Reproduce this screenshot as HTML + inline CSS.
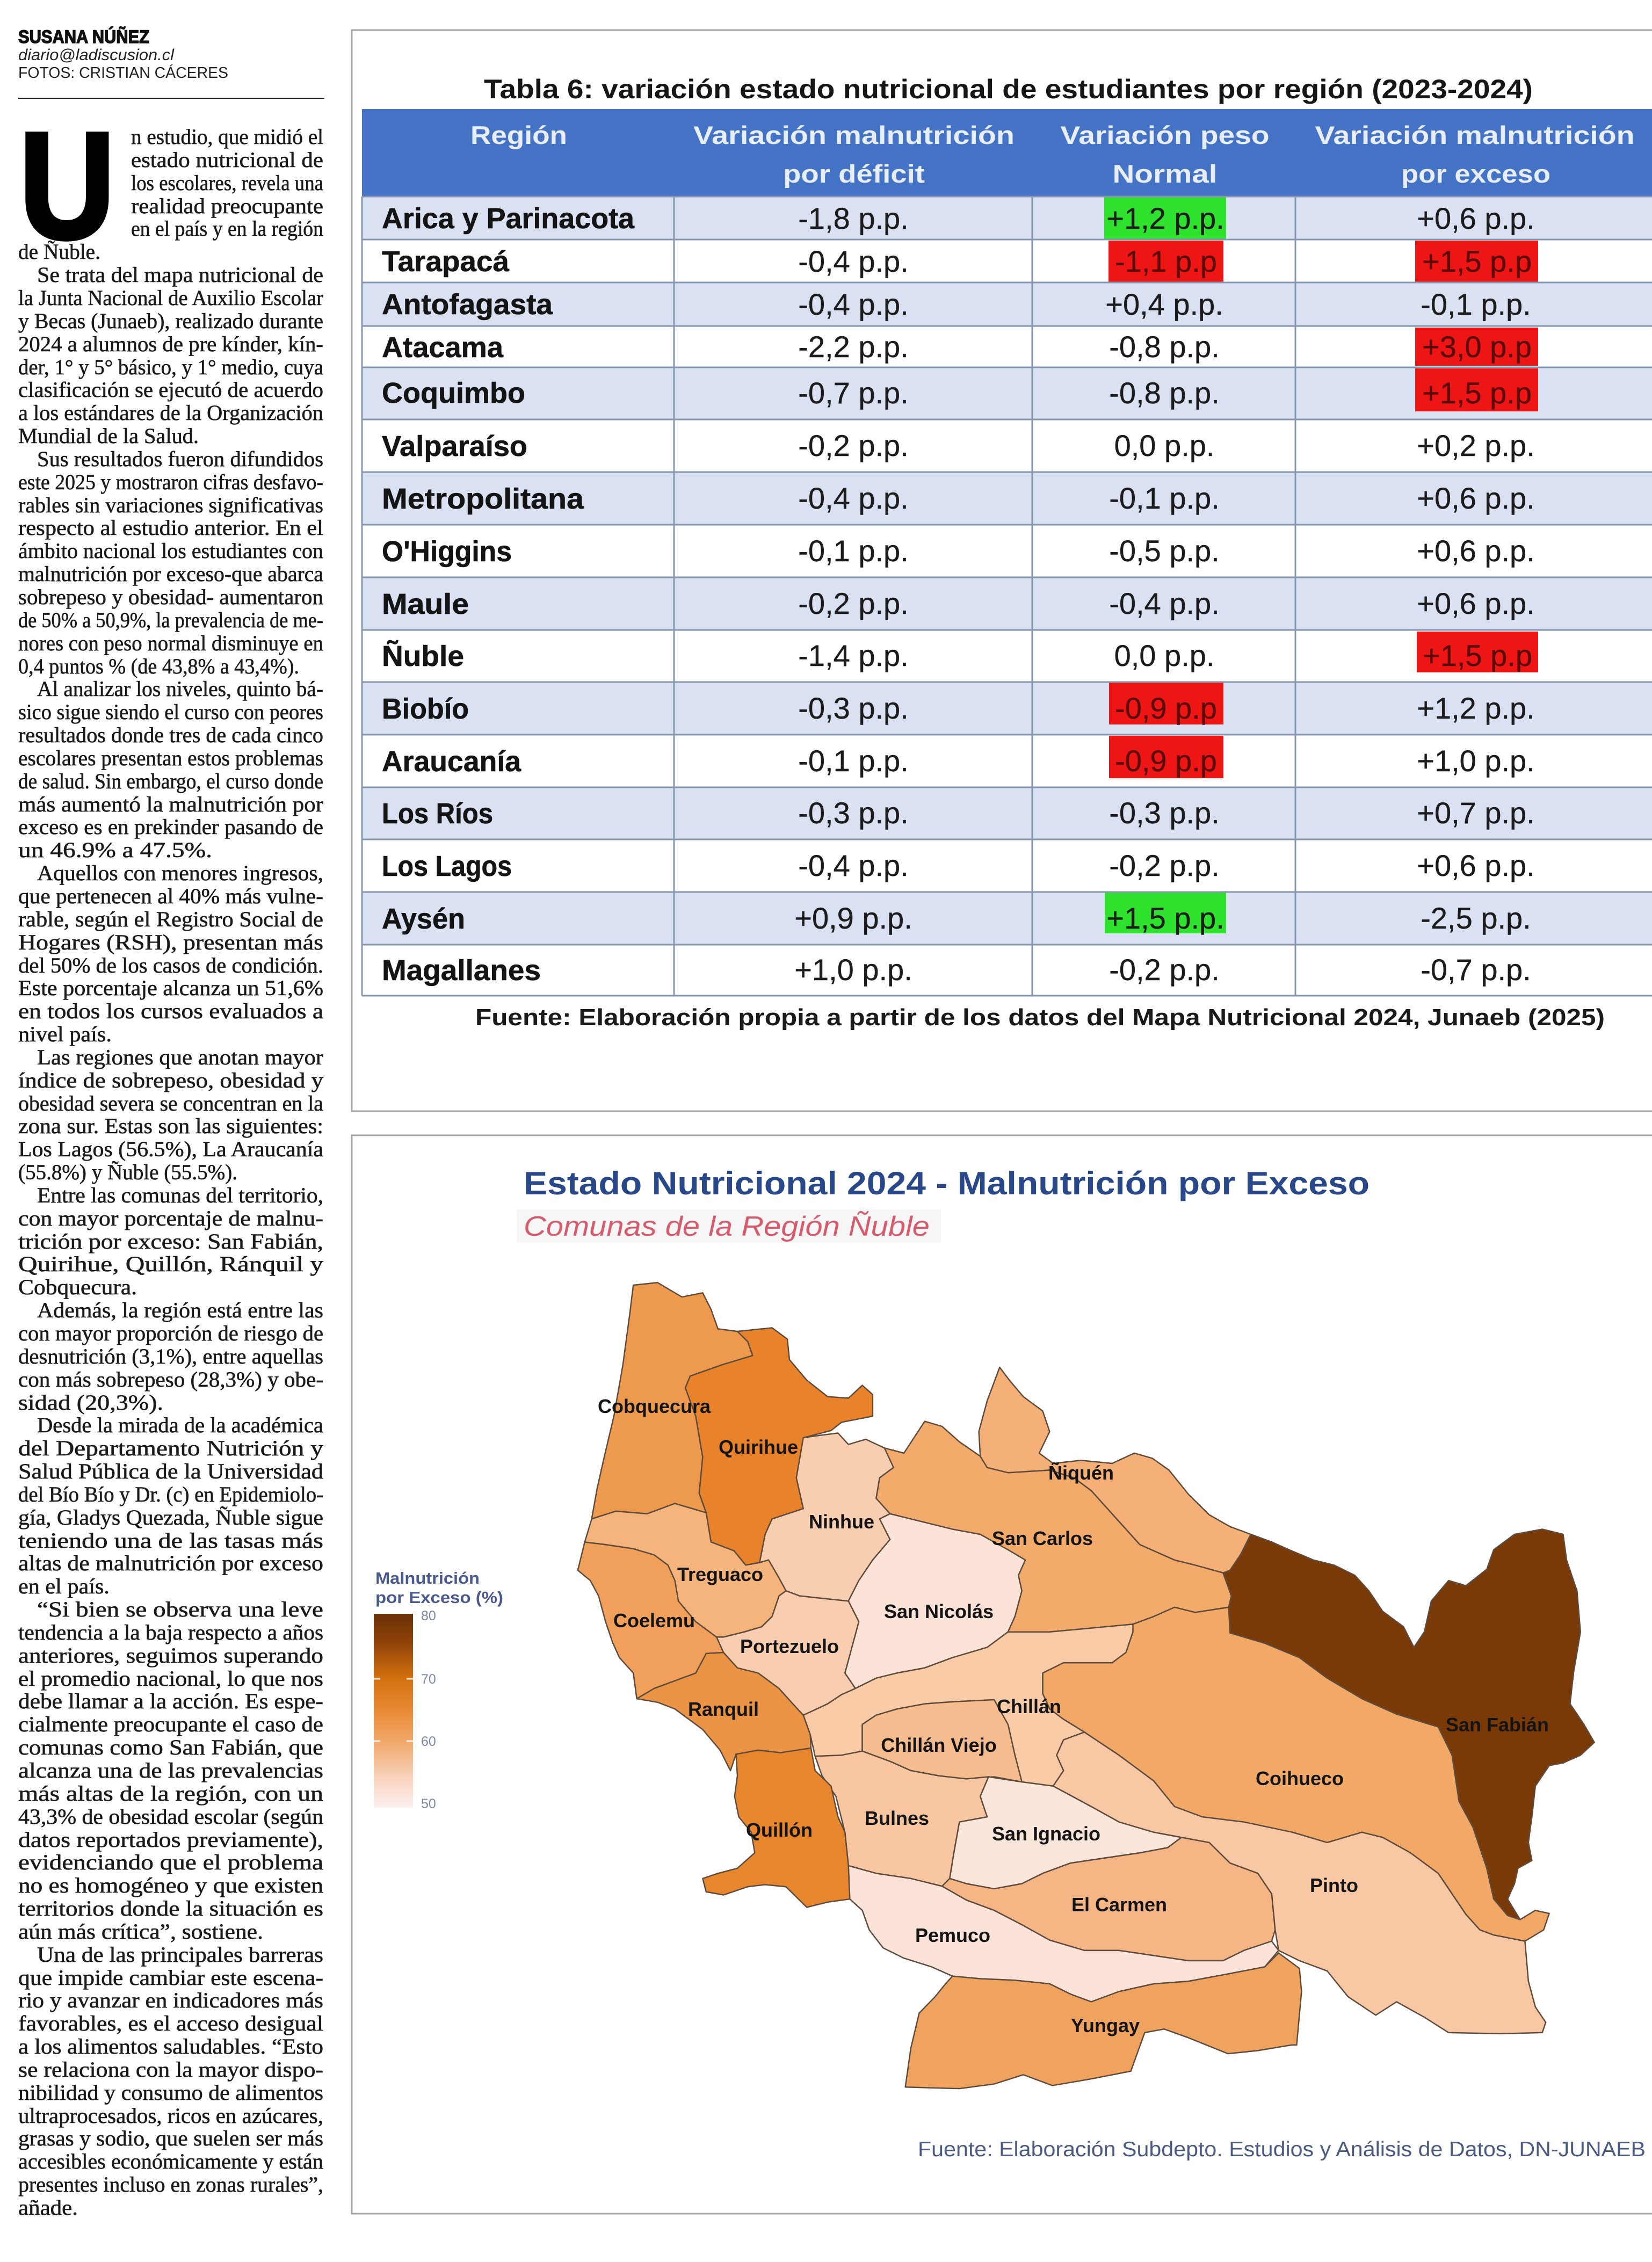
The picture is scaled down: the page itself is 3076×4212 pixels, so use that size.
<!DOCTYPE html>
<html><head><meta charset="utf-8"><title>Estado nutricional</title>
<style>
html,body{margin:0;padding:0;background:#fff;}
svg{display:block;}
.bt{font-family:"Liberation Serif",serif;font-size:40px;fill:#1a1a1a;stroke:#1a1a1a;stroke-width:0.6px;}
.rg{font-family:"Liberation Sans",sans-serif;font-weight:bold;font-size:54px;fill:#141414;stroke:#141414;stroke-width:0.6px;}
.vl{font-family:"Liberation Sans",sans-serif;font-size:56px;fill:#1c1c1c;text-anchor:middle;stroke:#1c1c1c;stroke-width:0.4px;}
.hd{font-family:"Liberation Sans",sans-serif;font-weight:bold;font-size:47px;fill:#e8eef8;text-anchor:middle;}
.ml{font-family:"Liberation Sans",sans-serif;font-weight:bold;font-size:36px;fill:#141414;text-anchor:middle;}
</style></head>
<body>
<svg width="3076" height="4212" viewBox="0 0 3076 4212" xmlns="http://www.w3.org/2000/svg">
<rect width="3076" height="4212" fill="#fff"/>

<!-- byline -->
<text x="34" y="80" font-family="Liberation Sans, sans-serif" font-weight="bold" font-size="34" fill="#111" stroke="#111" stroke-width="1.5" textLength="244" lengthAdjust="spacingAndGlyphs">SUSANA NÚÑEZ</text>
<text x="34" y="112" font-family="Liberation Sans, sans-serif" font-style="italic" font-size="30" fill="#222" textLength="290" lengthAdjust="spacingAndGlyphs">diario@ladiscusion.cl</text>
<text x="34" y="145" font-family="Liberation Sans, sans-serif" font-size="29" fill="#222" textLength="391" lengthAdjust="spacingAndGlyphs">FOTOS: CRISTIAN CÁCERES</text>
<line x1="34" y1="183" x2="604" y2="183" stroke="#222" stroke-width="2"/>

<!-- drop cap -->
<text x="36" y="443" font-family="Liberation Sans, sans-serif" font-weight="bold" font-size="282" fill="#000" stroke="#000" stroke-width="8" textLength="178" lengthAdjust="spacingAndGlyphs">U</text>

<!-- body text -->
<g class="bt">
<text x="244" y="268" textLength="358" lengthAdjust="spacingAndGlyphs">n estudio, que midió el</text>
<text x="244" y="311" textLength="358" lengthAdjust="spacingAndGlyphs">estado nutricional de</text>
<text x="244" y="354" textLength="358" lengthAdjust="spacingAndGlyphs">los escolares, revela una</text>
<text x="244" y="397" textLength="358" lengthAdjust="spacingAndGlyphs">realidad preocupante</text>
<text x="244" y="439" textLength="358" lengthAdjust="spacingAndGlyphs">en el país y en la región</text>
<text x="34" y="482" textLength="153" lengthAdjust="spacingAndGlyphs">de Ñuble.</text>
<text x="69" y="525" textLength="533" lengthAdjust="spacingAndGlyphs">Se trata del mapa nutricional de</text>
<text x="34" y="568" textLength="568" lengthAdjust="spacingAndGlyphs">la Junta Nacional de Auxilio Escolar</text>
<text x="34" y="611" textLength="568" lengthAdjust="spacingAndGlyphs">y Becas (Junaeb), realizado durante</text>
<text x="34" y="654" textLength="568" lengthAdjust="spacingAndGlyphs">2024 a alumnos de pre kínder, kín-</text>
<text x="34" y="697" textLength="568" lengthAdjust="spacingAndGlyphs">der, 1° y  5° básico, y 1° medio, cuya</text>
<text x="34" y="739" textLength="568" lengthAdjust="spacingAndGlyphs">clasificación se ejecutó de acuerdo</text>
<text x="34" y="782" textLength="568" lengthAdjust="spacingAndGlyphs">a los estándares de la Organización</text>
<text x="34" y="825" textLength="336" lengthAdjust="spacingAndGlyphs">Mundial de la Salud.</text>
<text x="69" y="868" textLength="533" lengthAdjust="spacingAndGlyphs">Sus resultados fueron difundidos</text>
<text x="34" y="911" textLength="568" lengthAdjust="spacingAndGlyphs">este 2025 y mostraron cifras desfavo-</text>
<text x="34" y="954" textLength="568" lengthAdjust="spacingAndGlyphs">rables sin variaciones significativas</text>
<text x="34" y="996" textLength="568" lengthAdjust="spacingAndGlyphs">respecto al estudio anterior. En el</text>
<text x="34" y="1039" textLength="568" lengthAdjust="spacingAndGlyphs">ámbito nacional los estudiantes con</text>
<text x="34" y="1082" textLength="568" lengthAdjust="spacingAndGlyphs">malnutrición por exceso-que abarca</text>
<text x="34" y="1125" textLength="568" lengthAdjust="spacingAndGlyphs">sobrepeso y obesidad- aumentaron</text>
<text x="34" y="1168" textLength="568" lengthAdjust="spacingAndGlyphs">de 50% a 50,9%, la prevalencia de me-</text>
<text x="34" y="1211" textLength="568" lengthAdjust="spacingAndGlyphs">nores con peso normal disminuye en</text>
<text x="34" y="1254" textLength="523" lengthAdjust="spacingAndGlyphs">0,4 puntos % (de 43,8% a 43,4%).</text>
<text x="69" y="1296" textLength="533" lengthAdjust="spacingAndGlyphs">Al analizar los niveles, quinto bá-</text>
<text x="34" y="1339" textLength="568" lengthAdjust="spacingAndGlyphs">sico sigue siendo el curso con peores</text>
<text x="34" y="1382" textLength="568" lengthAdjust="spacingAndGlyphs">resultados donde tres de cada cinco</text>
<text x="34" y="1425" textLength="568" lengthAdjust="spacingAndGlyphs">escolares presentan estos problemas</text>
<text x="34" y="1468" textLength="568" lengthAdjust="spacingAndGlyphs">de salud. Sin embargo, el curso donde</text>
<text x="34" y="1511" textLength="568" lengthAdjust="spacingAndGlyphs">más aumentó la malnutrición por</text>
<text x="34" y="1553" textLength="568" lengthAdjust="spacingAndGlyphs">exceso es en prekinder pasando de</text>
<text x="34" y="1596" textLength="361" lengthAdjust="spacingAndGlyphs">un 46.9% a 47.5%.</text>
<text x="69" y="1639" textLength="533" lengthAdjust="spacingAndGlyphs">Aquellos con menores ingresos,</text>
<text x="34" y="1682" textLength="568" lengthAdjust="spacingAndGlyphs">que pertenecen al 40% más vulne-</text>
<text x="34" y="1725" textLength="568" lengthAdjust="spacingAndGlyphs">rable, según el Registro Social de</text>
<text x="34" y="1768" textLength="568" lengthAdjust="spacingAndGlyphs">Hogares (RSH), presentan más</text>
<text x="34" y="1811" textLength="568" lengthAdjust="spacingAndGlyphs">del 50% de los casos de condición.</text>
<text x="34" y="1853" textLength="568" lengthAdjust="spacingAndGlyphs">Este porcentaje alcanza un 51,6%</text>
<text x="34" y="1896" textLength="568" lengthAdjust="spacingAndGlyphs">en todos los cursos evaluados a</text>
<text x="34" y="1939" textLength="174" lengthAdjust="spacingAndGlyphs">nivel país.</text>
<text x="69" y="1982" textLength="533" lengthAdjust="spacingAndGlyphs">Las regiones que anotan mayor</text>
<text x="34" y="2025" textLength="568" lengthAdjust="spacingAndGlyphs">índice de sobrepeso, obesidad y</text>
<text x="34" y="2068" textLength="568" lengthAdjust="spacingAndGlyphs">obesidad severa se concentran en la</text>
<text x="34" y="2110" textLength="568" lengthAdjust="spacingAndGlyphs">zona sur. Estas son las siguientes:</text>
<text x="34" y="2153" textLength="568" lengthAdjust="spacingAndGlyphs">Los Lagos (56.5%), La Araucanía</text>
<text x="34" y="2196" textLength="408" lengthAdjust="spacingAndGlyphs">(55.8%) y Ñuble (55.5%).</text>
<text x="69" y="2239" textLength="533" lengthAdjust="spacingAndGlyphs">Entre las comunas del territorio,</text>
<text x="34" y="2282" textLength="568" lengthAdjust="spacingAndGlyphs">con mayor porcentaje de malnu-</text>
<text x="34" y="2325" textLength="568" lengthAdjust="spacingAndGlyphs">trición por exceso: San Fabián,</text>
<text x="34" y="2367" textLength="568" lengthAdjust="spacingAndGlyphs">Quirihue, Quillón, Ránquil y</text>
<text x="34" y="2410" textLength="221" lengthAdjust="spacingAndGlyphs">Cobquecura.</text>
<text x="69" y="2453" textLength="533" lengthAdjust="spacingAndGlyphs">Además, la región está entre las</text>
<text x="34" y="2496" textLength="568" lengthAdjust="spacingAndGlyphs">con mayor proporción de riesgo de</text>
<text x="34" y="2539" textLength="568" lengthAdjust="spacingAndGlyphs">desnutrición (3,1%), entre aquellas</text>
<text x="34" y="2582" textLength="568" lengthAdjust="spacingAndGlyphs">con más sobrepeso (28,3%) y obe-</text>
<text x="34" y="2625" textLength="270" lengthAdjust="spacingAndGlyphs">sidad (20,3%).</text>
<text x="69" y="2667" textLength="533" lengthAdjust="spacingAndGlyphs">Desde la mirada de la académica</text>
<text x="34" y="2710" textLength="568" lengthAdjust="spacingAndGlyphs">del Departamento Nutrición y</text>
<text x="34" y="2753" textLength="568" lengthAdjust="spacingAndGlyphs">Salud Pública de la Universidad</text>
<text x="34" y="2796" textLength="568" lengthAdjust="spacingAndGlyphs">del Bío Bío y Dr. (c) en Epidemiolo-</text>
<text x="34" y="2839" textLength="568" lengthAdjust="spacingAndGlyphs">gía, Gladys Quezada, Ñuble sigue</text>
<text x="34" y="2882" textLength="568" lengthAdjust="spacingAndGlyphs">teniendo una de las tasas más</text>
<text x="34" y="2924" textLength="568" lengthAdjust="spacingAndGlyphs">altas de malnutrición por exceso</text>
<text x="34" y="2967" textLength="170" lengthAdjust="spacingAndGlyphs">en el país.</text>
<text x="69" y="3010" textLength="533" lengthAdjust="spacingAndGlyphs">“Si bien se observa una leve</text>
<text x="34" y="3053" textLength="568" lengthAdjust="spacingAndGlyphs">tendencia a la baja respecto a años</text>
<text x="34" y="3096" textLength="568" lengthAdjust="spacingAndGlyphs">anteriores, seguimos superando</text>
<text x="34" y="3139" textLength="568" lengthAdjust="spacingAndGlyphs">el promedio nacional, lo que nos</text>
<text x="34" y="3181" textLength="568" lengthAdjust="spacingAndGlyphs">debe llamar a la acción. Es espe-</text>
<text x="34" y="3224" textLength="568" lengthAdjust="spacingAndGlyphs">cialmente preocupante el caso de</text>
<text x="34" y="3267" textLength="568" lengthAdjust="spacingAndGlyphs">comunas como San Fabián, que</text>
<text x="34" y="3310" textLength="568" lengthAdjust="spacingAndGlyphs">alcanza una de las prevalencias</text>
<text x="34" y="3353" textLength="568" lengthAdjust="spacingAndGlyphs">más altas de la región, con un</text>
<text x="34" y="3396" textLength="568" lengthAdjust="spacingAndGlyphs">43,3% de obesidad escolar (según</text>
<text x="34" y="3439" textLength="568" lengthAdjust="spacingAndGlyphs">datos reportados previamente),</text>
<text x="34" y="3481" textLength="568" lengthAdjust="spacingAndGlyphs">evidenciando que el problema</text>
<text x="34" y="3524" textLength="568" lengthAdjust="spacingAndGlyphs">no es homogéneo y que existen</text>
<text x="34" y="3567" textLength="568" lengthAdjust="spacingAndGlyphs">territorios donde la situación es</text>
<text x="34" y="3610" textLength="456" lengthAdjust="spacingAndGlyphs">aún más crítica”, sostiene.</text>
<text x="69" y="3653" textLength="533" lengthAdjust="spacingAndGlyphs">Una de las principales barreras</text>
<text x="34" y="3696" textLength="568" lengthAdjust="spacingAndGlyphs">que impide cambiar este escena-</text>
<text x="34" y="3738" textLength="568" lengthAdjust="spacingAndGlyphs">rio y avanzar en indicadores más</text>
<text x="34" y="3781" textLength="568" lengthAdjust="spacingAndGlyphs">favorables, es el acceso desigual</text>
<text x="34" y="3824" textLength="568" lengthAdjust="spacingAndGlyphs">a los alimentos saludables. “Esto</text>
<text x="34" y="3867" textLength="568" lengthAdjust="spacingAndGlyphs">se relaciona con la mayor dispo-</text>
<text x="34" y="3910" textLength="568" lengthAdjust="spacingAndGlyphs">nibilidad y consumo de alimentos</text>
<text x="34" y="3953" textLength="568" lengthAdjust="spacingAndGlyphs">ultraprocesados, ricos en azúcares,</text>
<text x="34" y="3995" textLength="568" lengthAdjust="spacingAndGlyphs">grasas y sodio, que suelen ser más</text>
<text x="34" y="4038" textLength="568" lengthAdjust="spacingAndGlyphs">accesibles económicamente y están</text>
<text x="34" y="4081" textLength="568" lengthAdjust="spacingAndGlyphs">presentes incluso en zonas rurales”,</text>
<text x="34" y="4124" textLength="111" lengthAdjust="spacingAndGlyphs">añade.</text>
</g>

<!-- ============ TABLE BOX ============ -->
<rect x="655" y="56" width="2500" height="2013" fill="#fff" stroke="#a4a4a4" stroke-width="3"/>
<text x="901" y="183" font-family="Liberation Sans, sans-serif" font-weight="bold" font-size="50" fill="#161616" textLength="1953" lengthAdjust="spacingAndGlyphs">Tabla 6: variación estado nutricional de estudiantes por región (2023-2024)</text>

<rect x="674" y="203" width="2420" height="163" fill="#4472c4"/>
<g class="hd">
<text x="966" y="268" textLength="180" lengthAdjust="spacingAndGlyphs">Región</text>
<text x="1590" y="268" textLength="598" lengthAdjust="spacingAndGlyphs">Variación malnutrición</text>
<text x="1590" y="340" textLength="264" lengthAdjust="spacingAndGlyphs">por déficit</text>
<text x="2169" y="268" textLength="389" lengthAdjust="spacingAndGlyphs">Variación peso</text>
<text x="2169" y="340" textLength="195" lengthAdjust="spacingAndGlyphs">Normal</text>
<text x="2746" y="268" textLength="595" lengthAdjust="spacingAndGlyphs">Variación malnutrición</text>
<text x="2748" y="340" textLength="278" lengthAdjust="spacingAndGlyphs">por exceso</text>
</g>

<!-- row fills -->
<g fill="#d9e1f2">
<rect x="674" y="366" width="2420" height="80"/>
<rect x="674" y="526" width="2420" height="81"/>
<rect x="674" y="684" width="2420" height="97"/>
<rect x="674" y="879" width="2420" height="98"/>
<rect x="674" y="1075" width="2420" height="98"/>
<rect x="674" y="1270" width="2420" height="98"/>
<rect x="674" y="1466" width="2420" height="97"/>
<rect x="674" y="1661" width="2420" height="98"/>
</g>

<!-- highlight cells -->
<g fill="#ee1515">
<rect x="2064" y="448" width="214" height="77"/>
<rect x="2635" y="448" width="229" height="77"/>
<rect x="2635" y="610" width="229" height="71"/>
<rect x="2635" y="686" width="229" height="80"/>
<rect x="2638" y="1176" width="226" height="76"/>
<rect x="2065" y="1270" width="213" height="79"/>
<rect x="2065" y="1370" width="213" height="79"/>
</g>
<g fill="#2ee22e">
<rect x="2056" y="367" width="227" height="79"/>
<rect x="2057" y="1661" width="226" height="77"/>
</g>

<!-- grid lines -->
<g stroke="#8496b0" stroke-width="3">
<line x1="674" y1="366" x2="3094" y2="366"/>
<line x1="674" y1="446" x2="3094" y2="446"/>
<line x1="674" y1="526" x2="3094" y2="526"/>
<line x1="674" y1="607" x2="3094" y2="607"/>
<line x1="674" y1="684" x2="3094" y2="684"/>
<line x1="674" y1="781" x2="3094" y2="781"/>
<line x1="674" y1="879" x2="3094" y2="879"/>
<line x1="674" y1="977" x2="3094" y2="977"/>
<line x1="674" y1="1075" x2="3094" y2="1075"/>
<line x1="674" y1="1173" x2="3094" y2="1173"/>
<line x1="674" y1="1270" x2="3094" y2="1270"/>
<line x1="674" y1="1368" x2="3094" y2="1368"/>
<line x1="674" y1="1466" x2="3094" y2="1466"/>
<line x1="674" y1="1563" x2="3094" y2="1563"/>
<line x1="674" y1="1661" x2="3094" y2="1661"/>
<line x1="674" y1="1759" x2="3094" y2="1759"/>
<line x1="674" y1="1854" x2="3094" y2="1854"/>
<line x1="674" y1="366" x2="674" y2="1854"/>
<line x1="1255" y1="366" x2="1255" y2="1854"/>
<line x1="1922" y1="366" x2="1922" y2="1854"/>
<line x1="2412" y1="366" x2="2412" y2="1854"/>
</g>

<!-- region names -->
<g class="rg">
<text x="711" y="425" textLength="470" lengthAdjust="spacingAndGlyphs">Arica y Parinacota</text>
<text x="711" y="505" textLength="237" lengthAdjust="spacingAndGlyphs">Tarapacá</text>
<text x="711" y="585" textLength="318" lengthAdjust="spacingAndGlyphs">Antofagasta</text>
<text x="711" y="665" textLength="226" lengthAdjust="spacingAndGlyphs">Atacama</text>
<text x="711" y="750" textLength="267" lengthAdjust="spacingAndGlyphs">Coquimbo</text>
<text x="711" y="849" textLength="271" lengthAdjust="spacingAndGlyphs">Valparaíso</text>
<text x="711" y="947" textLength="376" lengthAdjust="spacingAndGlyphs">Metropolitana</text>
<text x="711" y="1045" textLength="242" lengthAdjust="spacingAndGlyphs">O'Higgins</text>
<text x="711" y="1143" textLength="162" lengthAdjust="spacingAndGlyphs">Maule</text>
<text x="711" y="1240" textLength="153" lengthAdjust="spacingAndGlyphs">Ñuble</text>
<text x="711" y="1338" textLength="162" lengthAdjust="spacingAndGlyphs">Biobío</text>
<text x="711" y="1436" textLength="259" lengthAdjust="spacingAndGlyphs">Araucanía</text>
<text x="711" y="1533" textLength="207" lengthAdjust="spacingAndGlyphs">Los Ríos</text>
<text x="711" y="1631" textLength="242" lengthAdjust="spacingAndGlyphs">Los Lagos</text>
<text x="711" y="1729" textLength="155" lengthAdjust="spacingAndGlyphs">Aysén</text>
<text x="711" y="1825" textLength="296" lengthAdjust="spacingAndGlyphs">Magallanes</text>
</g>

<!-- values -->
<g class="vl">
<text x="1589" y="426">-1,8 p.p.</text><text x="2170" y="426">+1,2 p.p.</text><text x="2748" y="426">+0,6 p.p.</text>
<text x="1589" y="506">-0,4 p.p.</text><text x="2171" y="506" fill="#5a0808" stroke="#5a0808">-1,1 p.p</text><text x="2750" y="506" fill="#5a0808" stroke="#5a0808">+1,5 p.p</text>
<text x="1589" y="586">-0,4 p.p.</text><text x="2168" y="586">+0,4 p.p.</text><text x="2748" y="586">-0,1 p.p.</text>
<text x="1589" y="665">-2,2 p.p.</text><text x="2168" y="665">-0,8 p.p.</text><text x="2750" y="665" fill="#5a0808" stroke="#5a0808">+3,0 p.p</text>
<text x="1589" y="751">-0,7 p.p.</text><text x="2168" y="751">-0,8 p.p.</text><text x="2750" y="751" fill="#5a0808" stroke="#5a0808">+1,5 p.p</text>
<text x="1589" y="849">-0,2 p.p.</text><text x="2168" y="849">0,0 p.p.</text><text x="2748" y="849">+0,2 p.p.</text>
<text x="1589" y="947">-0,4 p.p.</text><text x="2168" y="947">-0,1 p.p.</text><text x="2748" y="947">+0,6 p.p.</text>
<text x="1589" y="1045">-0,1 p.p.</text><text x="2168" y="1045">-0,5 p.p.</text><text x="2748" y="1045">+0,6 p.p.</text>
<text x="1589" y="1143">-0,2 p.p.</text><text x="2168" y="1143">-0,4 p.p.</text><text x="2748" y="1143">+0,6 p.p.</text>
<text x="1589" y="1240">-1,4 p.p.</text><text x="2168" y="1240">0,0 p.p.</text><text x="2751" y="1240" fill="#5a0808" stroke="#5a0808">+1,5 p.p</text>
<text x="1589" y="1338">-0,3 p.p.</text><text x="2171" y="1338" fill="#5a0808" stroke="#5a0808">-0,9 p.p</text><text x="2748" y="1338">+1,2 p.p.</text>
<text x="1589" y="1436">-0,1 p.p.</text><text x="2171" y="1436" fill="#5a0808" stroke="#5a0808">-0,9 p.p</text><text x="2748" y="1436">+1,0 p.p.</text>
<text x="1589" y="1533">-0,3 p.p.</text><text x="2168" y="1533">-0,3 p.p.</text><text x="2748" y="1533">+0,7 p.p.</text>
<text x="1589" y="1631">-0,4 p.p.</text><text x="2168" y="1631">-0,2 p.p.</text><text x="2748" y="1631">+0,6 p.p.</text>
<text x="1589" y="1729">+0,9 p.p.</text><text x="2170" y="1729">+1,5 p.p.</text><text x="2748" y="1729">-2,5 p.p.</text>
<text x="1589" y="1825">+1,0 p.p.</text><text x="2168" y="1825">-0,2 p.p.</text><text x="2748" y="1825">-0,7 p.p.</text>
</g>

<text x="885" y="1909" font-family="Liberation Sans, sans-serif" font-weight="bold" font-size="44" fill="#1a1a1a" textLength="2103" lengthAdjust="spacingAndGlyphs">Fuente: Elaboración propia a partir de los datos del Mapa Nutricional 2024, Junaeb (2025)</text>

<!-- ============ MAP BOX ============ -->
<rect x="655" y="2114" width="2500" height="2008" fill="#fff" stroke="#a4a4a4" stroke-width="3"/>
<text x="975" y="2224" font-family="Liberation Sans, sans-serif" font-weight="bold" font-size="60" fill="#28488a" textLength="1575" lengthAdjust="spacingAndGlyphs">Estado Nutricional 2024 - Malnutrición por Exceso</text>
<rect x="962" y="2252" width="790" height="62" fill="#f6f6f6"/>
<text x="975" y="2301" font-family="Liberation Sans, sans-serif" font-style="italic" font-size="52" fill="#d65a6c" textLength="756" lengthAdjust="spacingAndGlyphs">Comunas de la Región Ñuble</text>

<!-- legend -->
<defs>
<linearGradient id="lg" x1="0" y1="0" x2="0" y2="1">
<stop offset="0" stop-color="#6a3007"/>
<stop offset="0.15" stop-color="#8f4308"/>
<stop offset="0.33" stop-color="#d3700f"/>
<stop offset="0.5" stop-color="#e98a35"/>
<stop offset="0.66" stop-color="#f2a86a"/>
<stop offset="0.85" stop-color="#f8d4bd"/>
<stop offset="1" stop-color="#fcefef"/>
</linearGradient>
</defs>
<text x="699" y="2949" font-family="Liberation Sans, sans-serif" font-weight="bold" font-size="31" fill="#4a5a90" textLength="194" lengthAdjust="spacingAndGlyphs">Malnutrición</text>
<text x="699" y="2985" font-family="Liberation Sans, sans-serif" font-weight="bold" font-size="31" fill="#4a5a90" textLength="238" lengthAdjust="spacingAndGlyphs">por Exceso (%)</text>
<rect x="696" y="3005" width="73" height="361" fill="url(#lg)"/>
<g stroke="#ffffff" stroke-width="3" opacity="0.8">
<line x1="696" y1="3126" x2="708" y2="3126"/><line x1="757" y1="3126" x2="769" y2="3126"/>
<line x1="696" y1="3242" x2="708" y2="3242"/><line x1="757" y1="3242" x2="769" y2="3242"/>
</g>
<g font-family="Liberation Sans, sans-serif" font-size="25" fill="#7c88a8">
<text x="784" y="3017">80</text>
<text x="784" y="3135">70</text>
<text x="784" y="3251">60</text>
<text x="784" y="3367">50</text>
</g>

<!-- map polygons -->
<g transform="translate(1050,2350) scale(1.292,0.9566)" stroke="#5e4b3c" stroke-width="2.5" stroke-linejoin="round">
<polygon vector-effect="non-scaling-stroke" fill="#ee9a4e" points="100,45 135,40 170,68 200,60 212,92 222,130 250,135 265,155 272,182 228,200 182,222 175,245 190,300 200,380 195,450 205,488 160,470 120,490 75,485 40,500 48,440 58,380 72,300 85,200 95,100"/>
<polygon vector-effect="non-scaling-stroke" fill="#e9832b" points="250,135 300,128 322,150 325,190 350,230 380,262 410,265 430,240 445,258 445,300 400,312 385,328 345,342 335,420 345,480 300,500 290,530 282,585 262,590 245,562 212,545 205,488 195,450 200,380 190,300 175,245 182,222 228,200 272,182 265,155"/>
<polygon vector-effect="non-scaling-stroke" fill="#f8ceb0" points="345,342 365,338 395,333 410,355 435,345 462,362 490,372 475,400 455,420 450,460 470,490 455,500 470,540 445,580 425,620 410,660 375,655 340,650 320,640 310,615 295,580 282,585 290,530 300,500 345,480 335,420"/>
<polygon vector-effect="non-scaling-stroke" fill="#fbe3d8" points="470,490 500,500 560,520 600,530 640,560 665,580 655,610 660,640 650,690 640,720 610,750 560,770 520,790 480,800 450,810 420,830 405,800 415,750 425,700 410,660 425,620 445,580 470,540 455,500"/>
<polygon vector-effect="non-scaling-stroke" fill="#f3ab6c" points="462,362 490,372 520,310 545,320 570,350 600,378 610,400 640,410 700,405 735,420 760,445 790,490 830,550 880,580 910,590 950,605 962,650 958,672 910,682 880,672 850,690 820,705 780,710 740,715 700,720 640,720 650,690 660,640 655,610 665,580 640,560 600,530 560,520 500,500 470,490 450,460 455,420 475,400"/>
<polygon vector-effect="non-scaling-stroke" fill="#f4b077" points="600,378 598,330 610,270 628,205 642,230 662,262 690,290 700,330 685,372 705,392 745,386 790,392 822,372 848,382 872,405 900,452 930,492 960,515 990,530 975,570 960,600 950,605 910,590 880,580 830,550 790,490 760,445 735,420 700,405 640,410 610,400"/>
<polygon vector-effect="non-scaling-stroke" fill="#7a3a08" points="990,530 1020,545 1045,560 1080,580 1110,590 1140,610 1160,640 1180,680 1210,710 1225,750 1240,720 1250,660 1275,620 1300,630 1330,598 1340,560 1370,530 1410,520 1440,530 1445,580 1460,640 1465,720 1455,800 1450,860 1470,900 1485,935 1465,960 1440,975 1420,980 1400,1020 1395,1080 1390,1130 1395,1165 1375,1180 1370,1210 1360,1240 1378,1280 1360,1272 1340,1240 1330,1180 1310,1100 1290,1050 1280,960 1260,905 1200,880 1150,850 1100,810 1060,770 1010,742 960,722 958,672 962,650 950,605 960,600 975,570"/>
<polygon vector-effect="non-scaling-stroke" fill="#f2a866" points="820,705 850,690 880,672 910,682 958,672 960,722 1010,742 1060,770 1100,810 1150,850 1200,880 1260,905 1280,960 1290,1050 1310,1100 1330,1180 1340,1240 1360,1272 1378,1280 1400,1262 1420,1268 1412,1300 1385,1322 1340,1310 1320,1300 1300,1270 1280,1230 1260,1190 1220,1150 1180,1120 1150,1110 1100,1130 1050,1110 980,1090 920,1080 880,1060 850,1010 800,960 750,915 720,890 700,870 690,840 690,800 720,780 790,780 810,760 820,720"/>
<polygon vector-effect="non-scaling-stroke" fill="#f8c7a3" points="750,915 800,960 850,1010 880,1060 920,1080 980,1090 1050,1110 1100,1130 1150,1110 1180,1120 1220,1150 1260,1190 1280,1230 1300,1270 1320,1300 1340,1310 1385,1322 1390,1400 1400,1450 1415,1480 1410,1500 1350,1502 1275,1500 1240,1470 1200,1440 1170,1466 1130,1430 1100,1380 1060,1360 1030,1340 1025,1300 1020,1230 1000,1190 960,1170 930,1130 890,1120 850,1110 800,1090 760,1060 705,1020 720,990 710,960 720,930"/>
<polygon vector-effect="non-scaling-stroke" fill="#f9cba6" points="420,830 450,810 480,800 520,790 560,770 610,750 640,720 700,720 740,715 780,710 820,705 820,720 810,760 790,780 720,780 690,800 690,840 700,870 720,890 750,915 720,930 710,960 720,990 705,1020 660,1012 650,960 640,900 620,852 560,856 520,860 480,870 450,882 430,900 430,952 400,960 362,962 355,920 345,882 380,860 400,842"/>
<polygon vector-effect="non-scaling-stroke" fill="#f5bc90" points="430,900 450,882 480,870 520,860 560,856 620,852 640,900 650,960 660,1012 620,1002 580,1006 540,1000 500,990 470,972 430,952"/>
<polygon vector-effect="non-scaling-stroke" fill="#f8c7a2" points="362,962 400,960 430,952 470,972 500,990 540,1000 580,1006 612,1002 600,1040 610,1080 570,1090 562,1150 556,1200 545,1215 500,1200 450,1190 410,1175 405,1110 392,1040 372,1000"/>
<polygon vector-effect="non-scaling-stroke" fill="#fbe6dc" points="612,1002 660,1012 705,1020 760,1060 800,1090 850,1110 890,1120 870,1140 830,1150 780,1160 730,1170 690,1190 660,1210 620,1220 580,1210 556,1200 562,1150 570,1090 610,1080 600,1040"/>
<polygon vector-effect="non-scaling-stroke" fill="#f5b584" points="545,1215 556,1200 580,1210 620,1220 660,1210 690,1190 730,1170 780,1160 830,1150 870,1140 890,1120 930,1130 960,1170 1000,1190 1020,1230 1025,1300 1020,1322 980,1340 950,1360 900,1360 850,1350 800,1340 750,1340 700,1320 660,1290 620,1262 580,1242"/>
<polygon vector-effect="non-scaling-stroke" fill="#fbe3d9" points="410,1175 450,1190 500,1200 545,1215 580,1242 620,1262 660,1290 700,1320 750,1340 800,1340 850,1350 900,1360 950,1360 980,1340 1020,1322 1030,1340 1010,1372 960,1385 900,1400 850,1405 800,1420 760,1440 730,1425 700,1405 650,1398 600,1395 560,1390 530,1372 490,1355 460,1335 440,1300 430,1262 412,1240"/>
<polygon vector-effect="non-scaling-stroke" fill="#f0a35f" points="560,1390 600,1395 650,1398 700,1405 730,1425 760,1440 800,1420 850,1405 900,1400 960,1385 1010,1372 1030,1345 1060,1375 1063,1420 1056,1524 1049,1524 1000,1535 957,1541 900,1510 865,1493 837,1500 817,1575 760,1590 704,1603 662,1582 620,1600 570,1609 492,1606 500,1530 512,1462 535,1430 550,1405"/>
<polygon vector-effect="non-scaling-stroke" fill="#e8862e" points="248,958 280,950 312,955 356,946 362,990 385,1020 395,1080 405,1110 410,1175 412,1240 380,1246 350,1256 320,1216 290,1212 265,1216 230,1232 205,1226 200,1200 222,1190 250,1180 275,1150 270,1110 252,1080 246,1040 250,1000"/>
<polygon vector-effect="non-scaling-stroke" fill="#ec9446" points="105,850 130,830 150,820 190,800 205,762 230,760 250,790 280,800 310,830 330,860 345,882 355,920 356,946 312,955 280,950 248,958 240,990 225,950 200,910 160,870 135,857"/>
<polygon vector-effect="non-scaling-stroke" fill="#f0a05a" points="30,545 60,550 100,558 130,570 150,590 160,620 165,660 190,700 220,730 230,760 205,762 190,800 150,820 130,830 105,850 100,800 80,770 70,740 60,700 50,650 38,620 20,600"/>
<polygon vector-effect="non-scaling-stroke" fill="#f5b47c" points="40,500 75,485 120,490 160,470 205,488 212,545 245,562 262,590 282,585 295,580 310,615 320,640 310,650 300,690 285,710 260,720 230,730 220,730 190,700 165,660 160,620 150,590 130,570 100,558 60,550 30,545"/>
<polygon vector-effect="non-scaling-stroke" fill="#f9ceb0" points="220,730 230,730 260,720 285,710 300,690 310,650 320,640 340,650 375,655 410,660 425,700 415,750 405,800 420,830 400,842 380,860 345,882 330,860 310,830 280,800 250,790 230,760"/>
</g>

<!-- map labels -->
<g class="ml">
<text x="1218" y="2631">Cobquecura</text>
<text x="1412" y="2707">Quirihue</text>
<text x="2013" y="2755">Ñiquén</text>
<text x="1567" y="2846">Ninhue</text>
<text x="1941" y="2877">San Carlos</text>
<text x="1341" y="2944">Treguaco</text>
<text x="1748" y="3013">San Nicolás</text>
<text x="1218" y="3030">Coelemu</text>
<text x="1470" y="3078">Portezuelo</text>
<text x="1916" y="3190">Chillán</text>
<text x="1347" y="3195">Ranquil</text>
<text x="2788" y="3224">San Fabián</text>
<text x="1748" y="3262">Chillán Viejo</text>
<text x="2420" y="3324">Coihueco</text>
<text x="1670" y="3398">Bulnes</text>
<text x="1451" y="3420">Quillón</text>
<text x="1948" y="3427">San Ignacio</text>
<text x="2484" y="3523">Pinto</text>
<text x="2084" y="3559">El Carmen</text>
<text x="1774" y="3616">Pemuco</text>
<text x="2058" y="3784">Yungay</text>
</g>

<text x="1709" y="4015" font-family="Liberation Sans, sans-serif" font-size="39" fill="#4a5a80" textLength="1355" lengthAdjust="spacingAndGlyphs">Fuente: Elaboración Subdepto. Estudios y Análisis de Datos, DN-JUNAEB</text>
</svg>
</body></html>
